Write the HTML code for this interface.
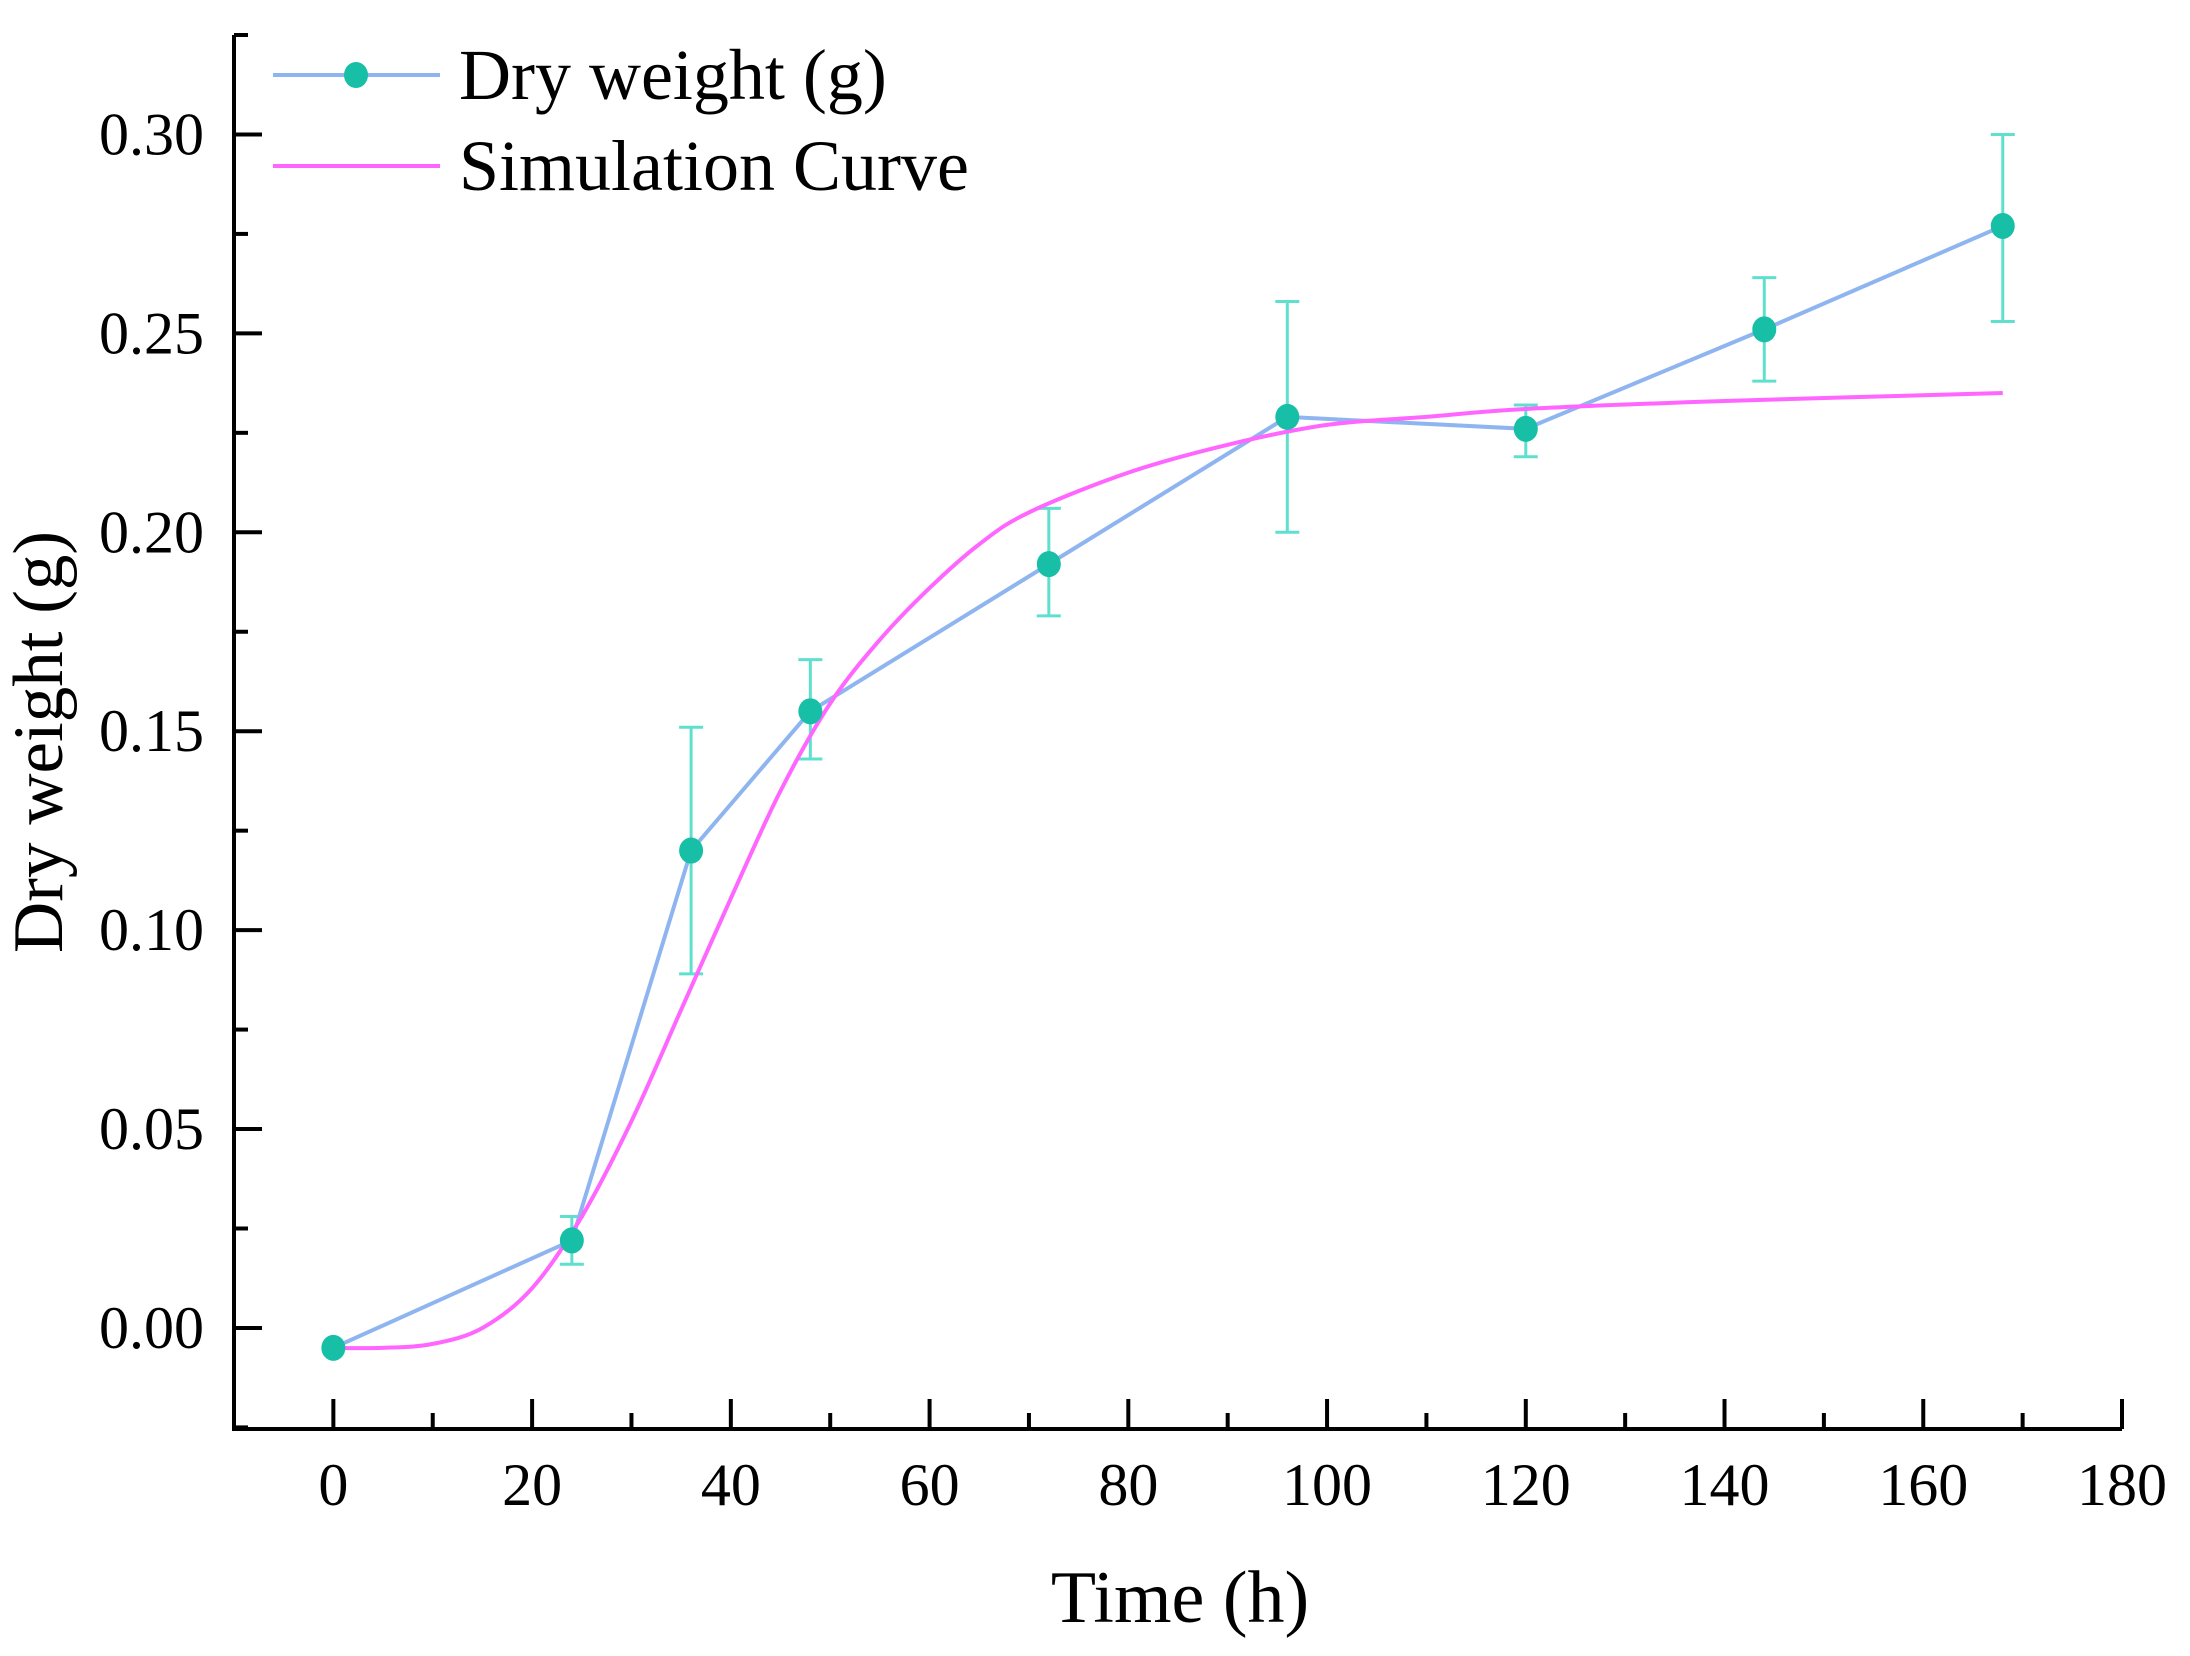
<!DOCTYPE html>
<html><head><meta charset="utf-8"><style>html,body{margin:0;padding:0;background:#fff}svg{display:block}</style></head>
<body>
<svg id="chart" width="2190" height="1656" xmlns="http://www.w3.org/2000/svg" font-family="'Liberation Serif', serif">
<g id="axes"></g>
<g id="plot"></g>
<g id="legend">
  <line x1="273" y1="75" x2="440" y2="75" stroke="#8fb5f0" stroke-width="4"/>
  <ellipse cx="356" cy="75" rx="12" ry="13" fill="#17bfa6"/>
  <text x="459" y="99" font-size="72" fill="#000">Dry weight (g)</text>
  <line x1="273" y1="166" x2="440" y2="166" stroke="#ff66ff" stroke-width="4"/>
  <text x="459" y="190" font-size="72" fill="#000">Simulation Curve</text>
</g>
<text x="1180" y="1622" font-size="74" text-anchor="middle">Time (h)</text>
<text transform="translate(62,742) rotate(-90)" font-size="71" text-anchor="middle">Dry weight (g)</text>
</svg>
<script>
const times = [0, 24, 36, 48, 72, 96, 120, 144, 168];
const dryWeight = [-0.005, 0.022, 0.120, 0.155, 0.192, 0.229, 0.226, 0.251, 0.277];
const errLow = [-0.005, 0.016, 0.089, 0.143, 0.179, 0.200, 0.219, 0.238, 0.253];
const errHigh = [-0.005, 0.028, 0.151, 0.168, 0.206, 0.258, 0.232, 0.264, 0.300];
const simTimes = [0, 5, 10, 15, 20, 25, 30, 35, 40, 45, 50, 55, 60, 65, 70, 80, 90, 100, 110, 120, 140, 168];
const simValues = [-0.005, -0.005, -0.004, 0.000, 0.010, 0.028, 0.052, 0.080, 0.108, 0.135, 0.157, 0.173, 0.186, 0.197, 0.205, 0.215, 0.222, 0.227, 0.229, 0.231, 0.233, 0.235];
const xTicks = [0, 20, 40, 60, 80, 100, 120, 140, 160, 180];
const yTicks = [0.00, 0.05, 0.10, 0.15, 0.20, 0.25, 0.30];
const yTickLabels = ["0.00", "0.05", "0.10", "0.15", "0.20", "0.25", "0.30"];

const NS = "http://www.w3.org/2000/svg";
const X0 = 234, X1 = 2122, Y0 = 1429, Y1 = 35;
const xMin = -10, xMax = 180, yMin = -0.0254, yMax = 0.325;
function xs(v){ return X0 + (v - xMin) / (xMax - xMin) * (X1 - X0); }
function ys(v){ return Y0 - (v - yMin) / (yMax - yMin) * (Y0 - Y1); }
function mk(tag, attrs, parent){ const e = document.createElementNS(NS, tag); for (const k in attrs) e.setAttribute(k, attrs[k]); parent.appendChild(e); return e; }

const axes = document.getElementById('axes');
const plot = document.getElementById('plot');
let e;
e = mk('path', {d:`M${X0},${Y1} V${Y0} H${X1}`, fill:'none', stroke:'#000', 'stroke-width':4}, axes);


e = mk('line', {x1:X0, y1:Y1, x2:X0+14, y2:Y1, stroke:'#000', 'stroke-width':4}, axes);



xTicks.forEach((t, i) => {
  const x = xs(t);
  let l = mk('line', {x1:x, y1:Y0, x2:x, y2:Y0-30, stroke:'#000', 'stroke-width':4}, axes);
  
  
  if (i < xTicks.length - 1) {
    let m = mk('line', {x1:xs(t+10), y1:Y0, x2:xs(t+10), y2:Y0-16, stroke:'#000', 'stroke-width':4}, axes);
    
    
  }
  let tx = mk('text', {x:x, y:1505, 'font-size':60, 'text-anchor':'middle'}, axes);
  tx.textContent = String(t);
  
  
});

yTicks.forEach((v, i) => {
  const y = ys(v);
  let l = mk('line', {x1:X0, y1:y, x2:X0+28, y2:y, stroke:'#000', 'stroke-width':4}, axes);
  
  
  let m = mk('line', {x1:X0, y1:ys(v-0.025), x2:X0+14, y2:ys(v-0.025), stroke:'#000', 'stroke-width':4}, axes);
  
  
  let tx = mk('text', {x:204, y:y+20, 'font-size':60, 'text-anchor':'end'}, axes);
  tx.textContent = yTickLabels[i];
  
  
});

const sp = simTimes.map((t, i) => [xs(t), ys(simValues[i])]);
let d = `M${sp[0][0]},${sp[0][1]}`;
for (let i = 0; i < sp.length - 1; i++) {
  const p0 = sp[Math.max(0, i-1)], p1 = sp[i], p2 = sp[i+1], p3 = sp[Math.min(sp.length-1, i+2)];
  const c1 = [p1[0] + (p2[0]-p0[0])/6, p1[1] + (p2[1]-p0[1])/6];
  const c2 = [p2[0] - (p3[0]-p1[0])/6, p2[1] - (p3[1]-p1[1])/6];
  d += ` C${c1[0]},${c1[1]} ${c2[0]},${c2[1]} ${p2[0]},${p2[1]}`;
}

times.forEach((t, i) => {
  const x = xs(t);
  if (errHigh[i] === errLow[i]) return;
  let g = mk('g', {stroke:'#5fe0cf', 'stroke-width':3}, plot);
  
  
  mk('line', {x1:x, y1:ys(errLow[i]), x2:x, y2:ys(errHigh[i])}, g);
  mk('line', {x1:x-12, y1:ys(errLow[i]), x2:x+12, y2:ys(errLow[i])}, g);
  mk('line', {x1:x-12, y1:ys(errHigh[i]), x2:x+12, y2:ys(errHigh[i])}, g);
});

e = mk('polyline', {points: times.map((t, i) => `${xs(t)},${ys(dryWeight[i])}`).join(' '), fill:'none', stroke:'#8fb5f0', 'stroke-width':4}, plot);



e = mk('path', {d:d, fill:'none', stroke:'#ff66ff', 'stroke-width':4}, plot);



times.forEach((t, i) => {
  let c = mk('ellipse', {cx:xs(t), cy:ys(dryWeight[i]), rx:12, ry:13, fill:'#17bfa6'}, plot);
  
  
});
</script>
</body></html>
